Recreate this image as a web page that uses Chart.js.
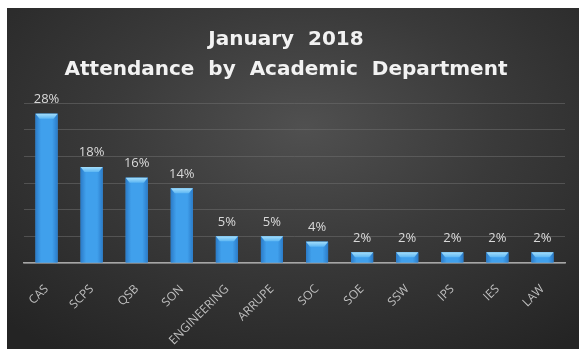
<!DOCTYPE html>
<html>
<head>
<meta charset="utf-8">
<script src="https://cdn.jsdelivr.net/npm/chart.js@4/dist/chart.umd.min.js"></script>
<style>
    html, body { margin: 0; padding: 0; background: #ffffff; }
    #wrap {
        position: absolute;
        left: 7px; top: 8px;
        width: 572px; height: 341px;
        background: radial-gradient(ellipse 75% 80% at 52% 35%, #505050 0%, #3a3a3a 45%, #242424 100%);
    }
</style>
</head>
<body>
<div id="wrap"><canvas id="myChart"></canvas></div>
<script>
const departments = ['CAS', 'SCPS', 'QSB', 'SON', 'ENGINEERING', 'ARRUPE', 'SOC', 'SOE', 'SSW', 'IPS', 'IES', 'LAW'];
const attendance = [28, 18, 16, 14, 5, 5, 4, 2, 2, 2, 2, 2];
const titleLines = ['January  2018', 'Attendance  by  Academic  Department'];

// shades the bars and writes the % labels above them
const barStyle = {
    id: 'barStyle',
    afterDatasetsDraw(chart) {
        const ctx = chart.ctx;
        const meta = chart.getDatasetMeta(0);
        meta.data.forEach((bar, i) => {
            const left = bar.x - bar.width / 2;
            const right = bar.x + bar.width / 2;
            const g = ctx.createLinearGradient(left, 0, right, 0);
            g.addColorStop(0, '#2b7bc8');
            g.addColorStop(0.25, '#40a0ec');
            g.addColorStop(0.75, '#40a0ec');
            g.addColorStop(1, '#2b7bc8');
            ctx.save();
            ctx.fillStyle = g;
            ctx.fillRect(left, bar.y, bar.width, bar.base - bar.y);
            // top bevel
            const cap = 5;
            const cg = ctx.createLinearGradient(0, bar.y, 0, bar.y + cap);
            cg.addColorStop(0, '#a4defb');
            cg.addColorStop(1, '#5cb6f3');
            ctx.fillStyle = cg;
            ctx.beginPath();
            ctx.moveTo(left, bar.y);
            ctx.lineTo(right, bar.y);
            ctx.lineTo(right - 4, bar.y + cap);
            ctx.lineTo(left + 4, bar.y + cap);
            ctx.closePath();
            ctx.fill();
            ctx.fillStyle = '#d9d9d9';
            ctx.font = '13px "Open Sans", sans-serif';
            ctx.textAlign = 'center';
            ctx.textBaseline = 'bottom';
            ctx.fillText(attendance[i] + '%', bar.x, bar.y - 8);
            ctx.restore();
        });
    }
};

new Chart(document.getElementById('myChart'), {
    type: 'bar',
    data: {
        labels: departments,
        datasets: [{
            data: attendance,
            backgroundColor: '#40a0ec',
            borderWidth: 0,
            barPercentage: 0.49,
            categoryPercentage: 1
        }]
    },
    options: {
        responsive: true,
        maintainAspectRatio: false,
        animation: false,
        layout: { padding: { left: 0, right: 14, top: 0, bottom: 0 } },
        plugins: {
            legend: { display: false },
            tooltip: { enabled: false },
            title: {
                display: true,
                text: titleLines,
                color: '#f2f2f2',
                font: { family: '"DejaVu Sans", sans-serif', size: 20, weight: 'bold', lineHeight: 1.5 },
                padding: { top: 17, bottom: 18 }
            }
        },
        scales: {
            x: {
                grid: { display: false },
                border: { color: '#a6a6a6', width: 1.5 },
                ticks: {
                    color: '#bfbfbf',
                    font: { family: '"Open Sans", sans-serif', size: 12 },
                    minRotation: 45,
                    maxRotation: 45,
                    padding: 11,
                    autoSkip: false
                },
                afterFit(scale) { scale.height = 86; }
            },
            y: {
                min: 0,
                max: 30,
                ticks: { display: false, stepSize: 5 },
                grid: { color: 'rgba(110, 110, 110, 0.55)', lineWidth: 1, drawTicks: false },
                border: { display: false },
                afterFit(scale) { scale.width = 17; }
            }
        }
    },
    plugins: [barStyle]
});
</script>
</body>
</html>
